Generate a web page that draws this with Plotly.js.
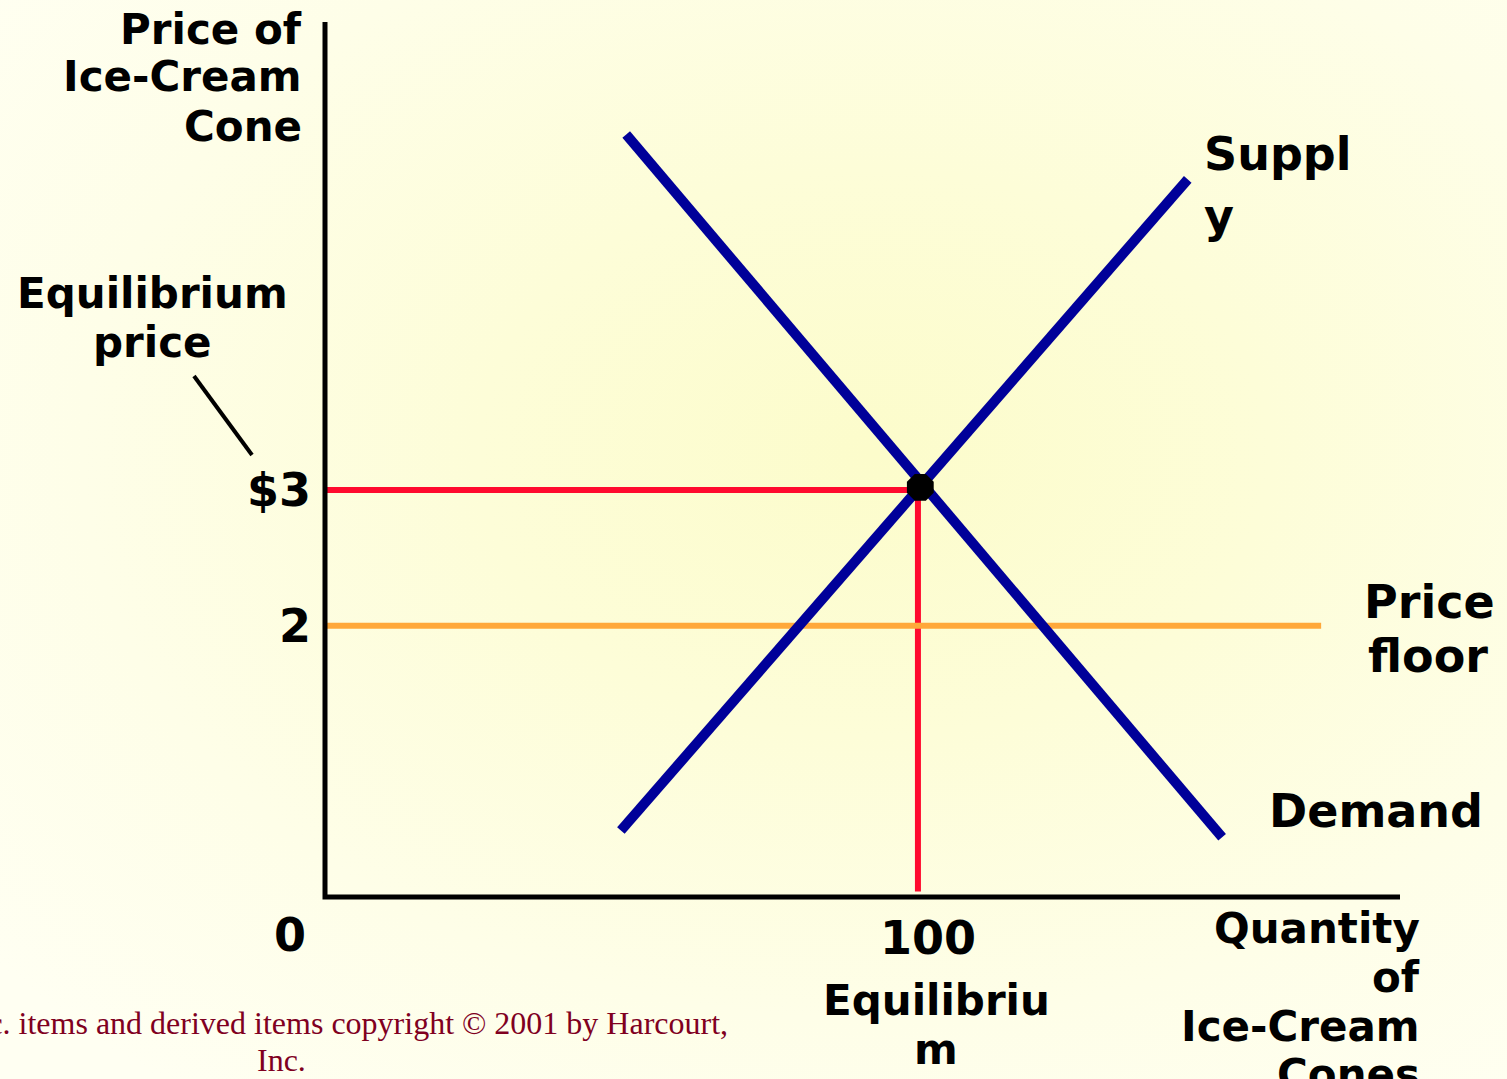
<!DOCTYPE html>
<html>
<head>
<meta charset="utf-8">
<script src="https://cdn.plot.ly/plotly-3.0.1.min.js"></script>
<style>
  html, body { margin: 0; padding: 0; width: 1507px; height: 1079px; overflow: hidden; }
  body { background: radial-gradient(ellipse 75% 75% at 58% 42%, #fcfccb 0%, #fdfdd8 35%, #fefee8 70%, #fffff2 100%); }
  #chart { width: 1507px; height: 1079px; }
</style>
</head>
<body>
<div id="chart"></div>
<script>
// ---- data (quantity of cones, price in $) ----
const demandQ = [50.8, 151.3];
const demandP = [5.62, 0.44];
const supplyQ = [49.9, 145.5];
const supplyP = [0.49, 5.29];
const eqQ = 100;
const eqP = 3;
const floorP = 2;
const floorQ = [0, 168];
const yTickVals = [3, 2];
const yTickText = ['$3', '2'];
const xTickVals = [100];
const xTickText = ['100'];

// ---- layout helpers (pixel -> paper) ----
const L = 325, R = 1400, T = 22, B = 897;
const px = x => (x - L) / (R - L);
const py = y => (B - y) / (B - T);
const F = 'DejaVu Sans, Verdana, sans-serif';
const big = { family: F, size: 46, color: '#000000', weight: 'bold' };
const mid = { family: F, size: 42, color: '#000000', weight: 'bold' };
const foot = { family: 'Liberation Serif, Times New Roman, serif', size: 32, color: '#80001f' };

function lbl(text, x, y, xanchor, font) {
  return { text: text, xref: 'paper', yref: 'paper', x: px(x), y: py(y),
           xanchor: xanchor, yanchor: 'middle', showarrow: false, font: font };
}

const traces = [
  { x: [0, eqQ], y: [eqP, eqP], mode: 'lines', line: { color: '#ff0a2e', width: 6 }, hoverinfo: 'skip' },
  { x: [eqQ, eqQ], y: [eqP, 0.04], mode: 'lines', line: { color: '#ff0a2e', width: 6 }, hoverinfo: 'skip' },
  { x: floorQ, y: [floorP, floorP], mode: 'lines', line: { color: '#ffa83a', width: 6 }, hoverinfo: 'skip' },
  { x: demandQ, y: demandP, mode: 'lines', line: { color: '#000099', width: 10 }, hoverinfo: 'skip' },
  { x: supplyQ, y: supplyP, mode: 'lines', line: { color: '#000099', width: 10 }, hoverinfo: 'skip' },
  { x: [eqQ + 0.4], y: [eqP + 0.02], mode: 'markers', marker: { color: '#000000', size: 29, symbol: 'octagon' }, hoverinfo: 'skip' }
];

const annotations = [
  lbl('Price of', 304, 29, 'right', mid),
  lbl('Ice-Cream', 304, 77, 'right', mid),
  lbl('Cone', 304, 126, 'right', mid),
  lbl('Equilibrium', 152, 293, 'center', mid),
  lbl('price', 152, 342, 'center', mid),
  lbl('0', 290, 935, 'center', big),
  lbl('Equilibriu', 936, 1000, 'center', mid),
  lbl('m', 936, 1049, 'center', mid),
  lbl('quantity', 936, 1098, 'center', mid),
  lbl('Quantity', 1422, 929, 'right', mid),
  lbl('of', 1422, 977, 'right', mid),
  lbl('Ice-Cream', 1422, 1026, 'right', mid),
  lbl('Cones', 1422, 1074, 'right', mid),
  lbl('Suppl', 1202, 154, 'left', big),
  lbl('y', 1202, 216, 'left', big),
  lbl('Price', 1362, 602, 'left', big),
  lbl('floor', 1366, 656, 'left', big),
  lbl('Demand', 1267, 811, 'left', big),
  lbl('Harcourt, Inc. items and derived items copyright © 2001 by Harcourt,', 730, 1023, 'right', foot),
  lbl('Inc.', 281, 1060, 'center', foot)
];
yTickVals.forEach((v, i) => annotations.push({ text: yTickText[i], xref: 'paper', yref: 'y', x: px(313), y: v,
  xanchor: 'right', yanchor: 'middle', showarrow: false, font: big }));
xTickVals.forEach((v, i) => annotations.push({ text: xTickText[i], xref: 'x', yref: 'paper', x: v, y: py(938),
  xshift: 10, xanchor: 'center', yanchor: 'middle', showarrow: false, font: big }));

const shapes = [
  { type: 'path', xref: 'paper', yref: 'paper',
    path: `M ${px(325)},${py(22)} L ${px(325)},${py(897)} L ${px(1400)},${py(897)}`,
    line: { color: '#000000', width: 5 } },
  { type: 'line', xref: 'paper', yref: 'paper', x0: px(194), y0: py(376), x1: px(252), y1: py(455),
    line: { color: '#000000', width: 4 } }
];

const layout = {
  width: 1507, height: 1079,
  margin: { l: L, r: 1507 - R, t: T, b: 1079 - B, pad: 0 },
  paper_bgcolor: 'rgba(0,0,0,0)', plot_bgcolor: 'rgba(0,0,0,0)',
  showlegend: false,
  xaxis: { range: [0, 181.3], showgrid: false, zeroline: false, showline: false, showticklabels: false, ticks: '', fixedrange: true },
  yaxis: { range: [0, 6.45], showgrid: false, zeroline: false, showline: false, showticklabels: false, ticks: '', fixedrange: true },
  annotations: annotations,
  shapes: shapes
};

Plotly.newPlot('chart', traces, layout, { displayModeBar: false, staticPlot: true });
</script>
</body>
</html>
